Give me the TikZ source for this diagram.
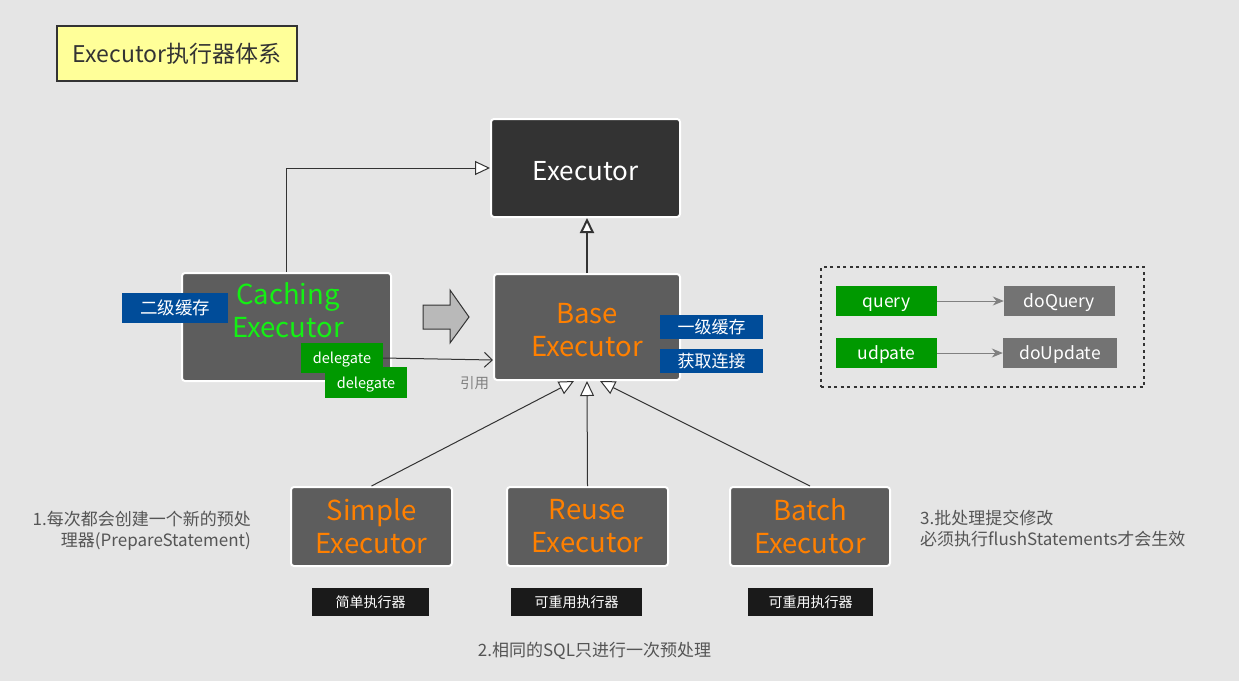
\documentclass[tikz,border=0pt]{standalone}
\usepackage{fontspec}
\setmainfont{Noto Sans CJK SC}
\usetikzlibrary{positioning, arrows.meta, fit}

\definecolor{bggray}{RGB}{229,229,229}
\definecolor{darkbox}{RGB}{51,51,51}
\definecolor{midbox}{RGB}{93,93,93}
\definecolor{execorange}{RGB}{255,128,0}
\definecolor{execgreen}{RGB}{20,240,20}
\definecolor{tagblue}{RGB}{0,76,153}
\definecolor{taggreen}{RGB}{0,153,0}
\definecolor{taggray}{RGB}{115,115,115}
\definecolor{tagblack}{RGB}{26,26,26}
\definecolor{notegray}{RGB}{85,85,85}
\definecolor{titleyellow}{RGB}{255,255,153}

\begin{document}
\begin{tikzpicture}[x=1pt, y=-1pt]

	\tikzstyle{box}=[draw=white, line width=2pt, rounded corners=3pt, inner sep=0pt, align=center, font=\fontsize{27.5}{33}\selectfont]
	\tikzstyle{sub}=[box, fill=midbox, text=execorange, minimum width=161pt, minimum height=79pt]
	\tikzstyle{tag}=[inner sep=0pt, text=white, minimum height=30pt, text height=15.5pt, text depth=2pt, font=\fontsize{17.5}{17.5}\selectfont]
	\tikzstyle{smalltag}=[tag, minimum height=28pt, text height=12.4pt, text depth=1.6pt, font=\fontsize{14}{14}\selectfont]
	\tikzstyle{note}=[text=notegray, inner sep=0pt, font=\fontsize{17}{21}\selectfont]

	\tikzstyle{inherit}=[-{Triangle[length=15pt, width=14pt, fill=white]}, line width=1pt, draw=darkbox]
	\tikzstyle{ref}=[-{Straight Barb[length=8pt, width=15pt]}, line width=1pt, draw=darkbox]
	\tikzstyle{call}=[-{Stealth[length=11pt, width=9pt]}, line width=1pt, draw=gray]

	\fill[bggray] (0,0) rectangle (1239,681);
	\useasboundingbox (0,0) rectangle (1239,681);

	% title
	\node[draw=darkbox, line width=2pt, fill=titleyellow, minimum width=240pt, minimum height=55pt, inner sep=0pt, text height=20.5pt, text depth=2.5pt, text=darkbox, font=\fontsize{23}{23}\selectfont] (title) at (177,53.5) {Executor执行器体系};

	% executors
	\node[box, fill=darkbox, text=white, minimum width=189pt, minimum height=98pt, text height=24.5pt, font=\fontsize{26}{33}\selectfont] (executor) at (585.5,168) {Executor};
	\node[box, fill=midbox, text=execorange, minimum width=186pt, minimum height=106pt, text height=59pt] (base) at (587,327) {Base\\Executor};
	\node[box, fill=midbox, minimum width=209pt, minimum height=108pt] (caching) at (286.5,327) {};
	\node[text=execgreen, align=center, inner sep=0pt, font=\fontsize{27.5}{33}\selectfont] (cachingtext) at (288,310) {Caching\\Executor};

	\node[sub] (simple) at (371.5,526.5) {Simple\\Executor};
	\node[sub] (reuse) at (587.5,526.5) {Reuse\\Executor};
	\node[sub, minimum width=160pt] (batch) at (810,526.5) {Batch\\Executor};

	% tags
	\node[tag, fill=tagblue, minimum width=106pt] (cache2) at (175,308) {二级缓存};
	\node[tag, fill=tagblue, minimum width=103pt, minimum height=24pt, text height=15pt, text depth=2pt, font=\fontsize{17}{17}\selectfont] (cache1) at (711.5,327) {一级缓存};
	\node[tag, fill=tagblue, minimum width=103pt, minimum height=24pt, text height=15pt, text depth=2pt, font=\fontsize{17}{17}\selectfont] (conn) at (711.5,361) {获取连接};
	\node[tag, fill=taggreen, minimum width=82pt, text height=13pt, text depth=1.5pt, font=\fontsize{14.5}{14.5}\selectfont] (delegate1) at (342,358) {delegate};
	\node[tag, fill=taggreen, minimum width=82pt, minimum height=31pt, text height=13pt, text depth=1.5pt, font=\fontsize{14.5}{14.5}\selectfont] (delegate2) at (366,382.5) {delegate};

	\node[smalltag, fill=tagblack, minimum width=117pt] (simpletag) at (370.5,602) {简单执行器};
	\node[smalltag, fill=tagblack, minimum width=131pt] (reusetag) at (576.5,602) {可重用执行器};
	\node[smalltag, fill=tagblack, minimum width=125pt] (batchtag) at (810.5,602) {可重用执行器};

	% big arrow
	\draw[fill=gray!55, draw=darkbox, line width=1pt] (423,305) -- (450,305) -- (450,290) -- (469,317) -- (450,343) -- (450,329) -- (423,329) -- cycle;

	% connectors
	\draw[inherit] (caching.north) |- (executor.west);
	\draw[inherit, line width=2pt] (base.north) -- (base.north |- executor.south);
	\draw[ref] (delegate1.east) -- ([yshift=-33pt]base.west) node[below left=13pt and 0pt, text=gray, font=\fontsize{14.5}{14.5}\selectfont] {引用};
	\draw[inherit] (simple.north) -- ([xshift=-13pt]base.south);
	\draw[inherit] (reuse.north) -- (base.south);
	\draw[inherit] (batch.north) -- ([xshift=13pt]base.south);

	% notes
	\node[note, align=right, anchor=east] (note1) at (251,531) {1.每次都会创建一个新的预处\\理器(PrepareStatement)};
	\node[note] (note2) at (594.5,651) {2.相同的SQL只进行一次预处理};
	\node[note, align=left, anchor=west] (note3) at (920,528) {3.批处理提交修改\\必须执行flushStatements才会生效};

	% legend
	\node[draw=darkbox, line width=2.5pt, dash pattern=on 3pt off 3.5pt, minimum width=323pt, minimum height=120pt] (legend) at (982.5,327) {};
	\node[tag, fill=taggreen, minimum width=101pt] (query) at (886.5,301) {query};
	\node[tag, fill=taggray, minimum width=111pt] (doquery) at (1059.5,301) {doQuery};
	\node[tag, fill=taggreen, minimum width=101pt] (update) at (886.5,353) {udpate};
	\node[tag, fill=taggray, minimum width=114pt] (doupdate) at (1060,353) {doUpdate};
	\draw[call] (query) -- (doquery);
	\draw[call] (update) -- (doupdate);

\end{tikzpicture}
\end{document}
